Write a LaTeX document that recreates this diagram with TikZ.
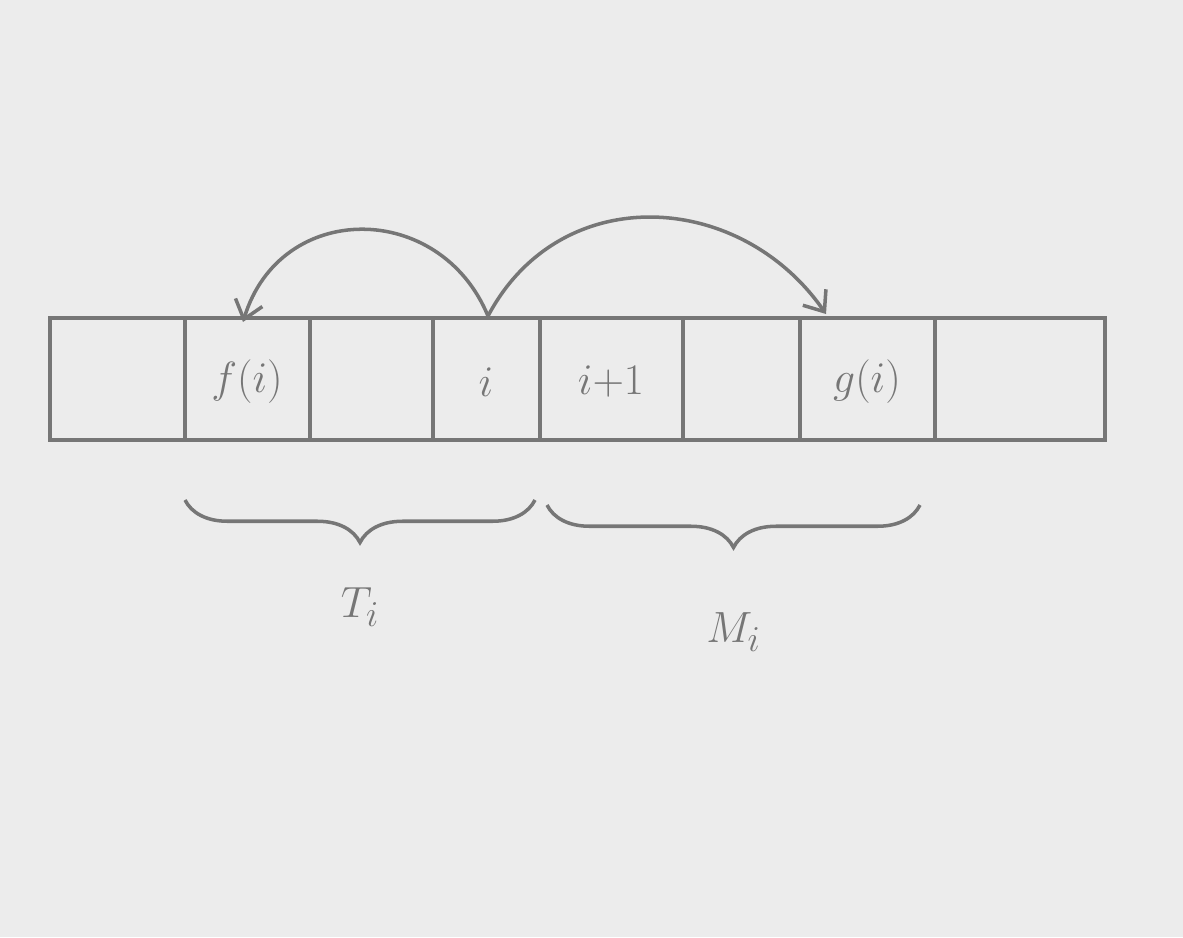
\documentclass[tikz,border=0pt]{standalone}
\usetikzlibrary{decorations.pathreplacing,arrows.meta}
\definecolor{paper}{RGB}{236,236,236}
\definecolor{pencil}{RGB}{118,118,118}
\tikzset{
  cellline/.style={draw=pencil,line width=2.2pt},
  arc/.style={draw=pencil,line width=2pt,-{Straight Barb[length=10pt,width=16pt]}},
  brc/.style={draw=pencil,line width=2pt,decorate,decoration={brace,amplitude=0.85cm,mirror}},
  lbl/.style={text=pencil,font=\fontsize{32}{38}\selectfont},
}
\begin{document}
\begin{tikzpicture}[x=0.02cm,y=-0.02cm]
\fill[paper] (0,0) rectangle (1183,937);
\useasboundingbox (0,0) rectangle (1183,937);
% array outline
\draw[cellline] (50,318) rectangle (1105,440);
\foreach \x in {185,310,433,540,683,800,935}{\draw[cellline] (\x,318) -- (\x,440);}
% cell texts
\node[lbl] (fi) at (247,382) {$f(i)$};
\node[lbl] (ii) at (486,382) {$i$};
\node[lbl] (ip) at (611,382) {$i{+}1$};
\node[lbl] (gi) at (867,382) {$g(i)$};
% anchor points on the top edge
\coordinate (src) at (488,316);
\coordinate (ftop) at (243,322);
\coordinate (gtop) at (826,314);
\draw[arc] (src) .. controls (440,200) and (280,200) .. (ftop);
\draw[arc] (src) .. controls (560,180) and (740,190) .. (gtop);
% braces
\coordinate (b1a) at (185,500);
\coordinate (b1b) at (535,500);
\coordinate (b2a) at (547,505);
\coordinate (b2b) at (920,505);
\draw[brc] (b1a) -- (b1b) node[midway,below=1.6cm,lbl] (T) {$T_i$};
\draw[brc] (b2a) -- (b2b) node[midway,below=2.0cm,lbl] (M) {$M_i$};
\end{tikzpicture}
\end{document}
